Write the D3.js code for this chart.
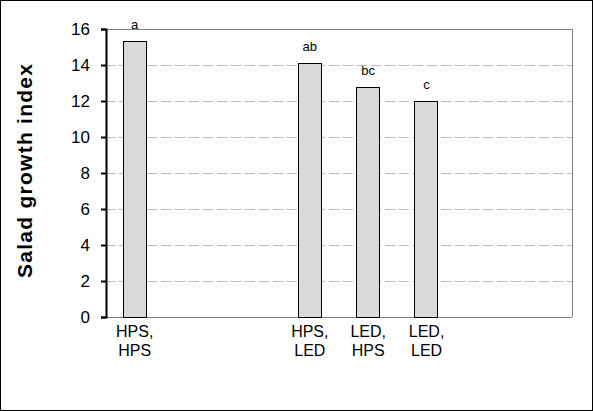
<!DOCTYPE html>
<html>
<head>
<meta charset="utf-8">
<script src="https://cdn.jsdelivr.net/npm/d3@7"></script>
<style>
  html, body { margin: 0; padding: 0; background: #fff; }
  svg { display: block; }
  text { font-family: "Liberation Sans", Arial, sans-serif; }
</style>
</head>
<body>
<svg id="chart" width="593" height="411"></svg>
<script>
// Data
const categories = ["c1", "c2", "c3", "c4", "c5", "c6", "c7", "c8"];
const labelLine1 = ["HPS,", "", "", "HPS,", "LED,", "LED,", "", ""];
const labelLine2 = ["HPS", "", "", "LED", "HPS", "LED", "", ""];
const values = [15.33, null, null, 14.11, 12.78, 12.0, null, null];
const letters = ["a", "", "", "ab", "bc", "c", "", ""];
const yTicks = [0, 2, 4, 6, 8, 10, 12, 14, 16];
const yTitle = "Salad growth index";

const W = 593, H = 411;
const margin = { left: 105, right: 21, top: 29, bottom: 94 };
const svg = d3.select("#chart");

// outer border
svg.append("rect").attr("x", 0.5).attr("y", 0.5).attr("width", W - 1).attr("height", H - 1)
  .attr("fill", "#fff").attr("stroke", "#000").attr("stroke-width", 1);

const x = d3.scaleBand().domain(categories).range([margin.left, W - margin.right]).paddingInner(0.6).paddingOuter(0.3);
const y = d3.scaleLinear().domain([0, 16]).range([H - margin.bottom, margin.top]);

const x0 = margin.left, x1 = W - margin.right;

// gridlines
svg.append("g").selectAll("line").data(yTicks.filter(t => t > 0 && t < 16)).join("line")
  .attr("x1", x0).attr("x2", x1)
  .attr("y1", d => Math.round(y(d)) + 0.5).attr("y2", d => Math.round(y(d)) + 0.5)
  .attr("stroke", "#bdbdbd").attr("stroke-width", 1).attr("stroke-dasharray", "10,4");

// plot frame top/right/bottom in grey
svg.append("line").attr("x1", x0).attr("x2", x1).attr("y1", Math.round(y(16)) + 0.5).attr("y2", Math.round(y(16)) + 0.5)
  .attr("stroke", "#808080");
svg.append("line").attr("x1", x1 + 0.5).attr("x2", x1 + 0.5).attr("y1", y(16)).attr("y2", y(0))
  .attr("stroke", "#808080");
svg.append("line").attr("x1", x0).attr("x2", x1).attr("y1", Math.round(y(0)) + 0.5).attr("y2", Math.round(y(0)) + 0.5)
  .attr("stroke", "#808080");

// bars
const barData = categories.map((c, i) => ({ c, v: values[i], l: letters[i] })).filter(d => d.v != null);
svg.append("g").selectAll("rect").data(barData).join("rect")
  .attr("x", d => Math.round(x(d.c)) + 0.5)
  .attr("y", d => Math.round(y(d.v)) + 0.5)
  .attr("width", d => Math.round(x.bandwidth()))
  .attr("height", d => Math.round(y(0)) - Math.round(y(d.v)))
  .attr("fill", "#d9d9d9").attr("stroke", "#000").attr("stroke-width", 1);

// letters
svg.append("g").selectAll("text").data(barData).join("text")
  .attr("x", d => x(d.c) + x.bandwidth() / 2 + 0.5)
  .attr("y", d => y(d.v) - 12)
  .attr("text-anchor", "middle").attr("font-size", 13).attr("fill", "#000")
  .text(d => d.l);

// y axis
const yAxis = d3.axisLeft(y).tickValues(yTicks).tickSize(5).tickPadding(11).tickFormat(d3.format("d"));
const gy = svg.append("g").attr("transform", `translate(${x0 + 1},0)`).call(yAxis);
gy.select(".domain").attr("stroke", "#000").attr("stroke-width", 2);
gy.selectAll(".tick line").attr("stroke", "#000").attr("stroke-width", 2);
gy.selectAll(".tick text").attr("font-size", 17).attr("fill", "#000")
  .attr("font-family", "'Liberation Sans', Arial, sans-serif");

// x labels
const xl = svg.append("g").selectAll("text").data(categories.map((c, i) => ({ c, a: labelLine1[i], b: labelLine2[i] })).filter(d => d.a))
  .join("text")
  .attr("text-anchor", "middle").attr("font-size", 16).attr("fill", "#000");
xl.append("tspan").attr("x", d => x(d.c) + x.bandwidth() / 2 + 0.5).attr("y", 337).text(d => d.a);
xl.append("tspan").attr("x", d => x(d.c) + x.bandwidth() / 2 + 0.5).attr("y", 356).text(d => d.b);

// y title
svg.append("text")
  .attr("transform", `translate(32,171) rotate(-90)`)
  .attr("text-anchor", "middle").attr("font-size", 21).attr("font-weight", "bold").attr("fill", "#000")
  .attr("textLength", 214).attr("lengthAdjust", "spacing")
  .text(yTitle);
</script>
</body>
</html>
